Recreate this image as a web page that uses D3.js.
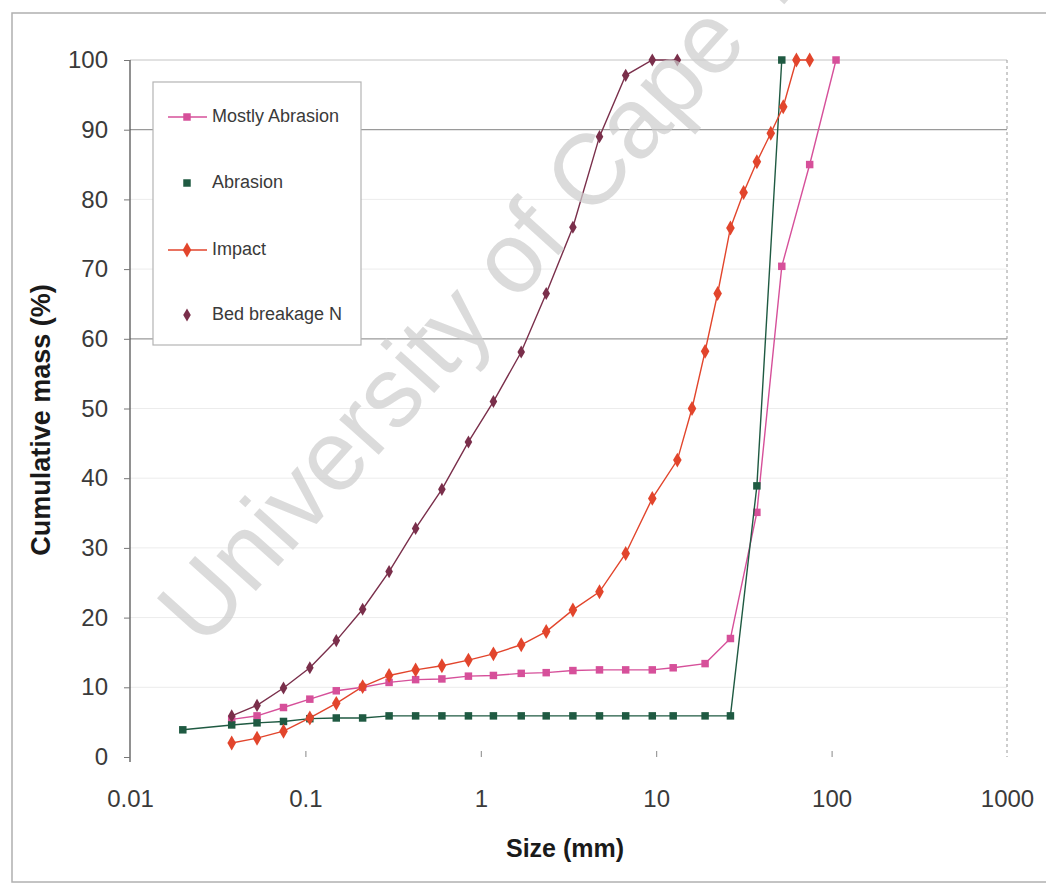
<!DOCTYPE html>
<html>
<head>
<meta charset="utf-8">
<script src="https://cdn.jsdelivr.net/npm/d3@7/dist/d3.min.js"></script>
<style>
  html, body { margin: 0; padding: 0; background: #fff; }
  svg { display: block; font-family: "Liberation Sans", Arial, sans-serif; }
</style>
</head>
<body>
<svg id="chart" width="1046" height="883"></svg>
<script>
// ---------- data ----------
const seriesNames = ["Mostly Abrasion", "Abrasion", "Impact", "Bed breakage N"];

const mostlySizes  = [0.038,0.053,0.075,0.106,0.15,0.212,0.3,0.425,0.6,0.85,1.18,1.7,2.36,3.35,4.75,6.7,9.5,12.5,19,26.5,37.5,52,75,106];
const mostlyValues = [5.4,5.9,7.1,8.3,9.5,10.0,10.7,11.1,11.2,11.6,11.7,12.0,12.1,12.4,12.5,12.5,12.5,12.8,13.4,17.0,35.1,70.4,85.0,100];

const abrasionSizes  = [0.02,0.038,0.053,0.075,0.106,0.15,0.212,0.3,0.425,0.6,0.85,1.18,1.7,2.36,3.35,4.75,6.7,9.5,12.5,19,26.5,37.5,52];
const abrasionValues = [3.9,4.6,4.9,5.1,5.5,5.6,5.6,5.9,5.9,5.9,5.9,5.9,5.9,5.9,5.9,5.9,5.9,5.9,5.9,5.9,5.9,38.9,100];

const impactSizes  = [0.038,0.053,0.075,0.106,0.15,0.212,0.3,0.425,0.6,0.85,1.18,1.7,2.36,3.35,4.75,6.7,9.5,13.2,16,19,22.4,26.5,31.5,37.5,45,53,63,75];
const impactValues = [2.0,2.7,3.7,5.6,7.7,10.1,11.7,12.5,13.1,13.9,14.8,16.1,18.0,21.1,23.7,29.2,37.1,42.6,50.0,58.2,66.5,75.9,81.0,85.4,89.5,93.3,100,100];

const bedSizes  = [0.038,0.053,0.075,0.106,0.15,0.212,0.3,0.425,0.6,0.85,1.18,1.7,2.36,3.35,4.75,6.7,9.5,13.2];
const bedValues = [5.9,7.4,9.9,12.8,16.7,21.2,26.6,32.8,38.4,45.2,51.0,58.1,66.5,76.0,89.0,97.8,100,100];

const xTicks = [0.01, 0.1, 1, 10, 100, 1000];
const xTickLabels = ["0.01", "0.1", "1", "10", "100", "1000"];
const yTicks = [0, 10, 20, 30, 40, 50, 60, 70, 80, 90, 100];

const xTitle = "Size (mm)";
const yTitle = "Cumulative mass (%)";
const watermark = "University of Cape Town";

// ---------- styles ----------
const colors = {
  "Mostly Abrasion": "#d6509a",
  "Abrasion": "#1f5a42",
  "Impact": "#e2452c",
  "Bed breakage N": "#7a2f4b"
};
const symbols = {
  "Mostly Abrasion": d3.symbolSquare,
  "Abrasion": d3.symbolSquare,
  "Impact": d3.symbolDiamond,
  "Bed breakage N": d3.symbolDiamond
};
const symbolSize = { "Mostly Abrasion": 56, "Abrasion": 56, "Impact": 64, "Bed breakage N": 50 };

const series = [
  { name: seriesNames[0], sizes: mostlySizes, values: mostlyValues },
  { name: seriesNames[1], sizes: abrasionSizes, values: abrasionValues },
  { name: seriesNames[2], sizes: impactSizes, values: impactValues },
  { name: seriesNames[3], sizes: bedSizes, values: bedValues }
];

// ---------- layout ----------
const svg = d3.select("#chart");
const x = d3.scaleLog().domain([0.01, 1000]).range([130, 1007]);
const y = d3.scaleLinear().domain([0, 100]).range([757, 60]);

// outer frame
svg.append("rect")
  .attr("x", 12).attr("y", 13).attr("width", 1050).attr("height", 869)
  .attr("fill", "none").attr("stroke", "#b0b0b0").attr("stroke-width", 1.5);

// gridlines
svg.append("g").selectAll("line").data(yTicks.filter(d => d > 0)).join("line")
  .attr("x1", x(0.01)).attr("x2", x(1000))
  .attr("y1", d => y(d)).attr("y2", d => y(d))
  .attr("stroke", d => (d === 90 || d === 60) ? "#9a9a9a" : (d === 100 ? "#c4c4c4" : "#ececec"))
  .attr("stroke-width", d => (d === 90 || d === 60) ? 1.3 : 1);

// right dashed border at 1000
svg.append("line")
  .attr("x1", x(1000)).attr("x2", x(1000))
  .attr("y1", y(100)).attr("y2", y(0))
  .attr("stroke", "#9a9a9a").attr("stroke-dasharray", "3,3");

// y axis
const yAxis = svg.append("g").attr("transform", `translate(${x(0.01)},0)`)
  .call(d3.axisLeft(y).tickValues(yTicks).tickSizeInner(6).tickSizeOuter(0).tickPadding(16));
yAxis.select(".domain").attr("stroke", "#555").attr("stroke-width", 1.3)
  .attr("d", `M0,${y(100)}V${y(0) + 5}`);
yAxis.selectAll(".tick line").attr("stroke", "#777");
yAxis.selectAll(".tick text").attr("font-size", 24).attr("fill", "#3a3a3a")
  .attr("font-family", "'Liberation Sans', Arial, sans-serif");

// x axis (ticks pointing up, no domain line)
const xAxis = svg.append("g").attr("transform", `translate(0,${y(0)})`)
  .call(d3.axisBottom(x).tickValues(xTicks).tickFormat((d, i) => xTickLabels[i])
    .tickSizeInner(-6).tickSizeOuter(0).tickPadding(33));
xAxis.select(".domain").remove();
xAxis.selectAll(".tick line").attr("stroke", "#888")
  .attr("opacity", (d, i) => (i === 0 || i === xTicks.length - 1) ? 0 : 1);
xAxis.selectAll(".tick text").attr("font-size", 24).attr("fill", "#3a3a3a")
  .attr("font-family", "'Liberation Sans', Arial, sans-serif");

// axis titles
svg.append("text").attr("x", 565).attr("y", 850).attr("text-anchor", "middle")
  .attr("dominant-baseline", "middle").attr("font-size", 25).attr("font-weight", "bold")
  .attr("fill", "#1a1a1a").text(xTitle);
svg.append("text").attr("transform", "translate(43,420) rotate(-90)")
  .attr("text-anchor", "middle").attr("dominant-baseline", "middle")
  .attr("font-size", 27).attr("font-weight", "bold").attr("fill", "#1a1a1a").text(yTitle);

// series lines and markers
const line = d3.line().x(d => x(d[0])).y(d => y(d[1]));
series.forEach(s => {
  const pts = s.sizes.map((v, i) => [v, s.values[i]]);
  const g = svg.append("g");
  g.append("path").datum(pts).attr("d", line)
    .attr("fill", "none").attr("stroke", colors[s.name]).attr("stroke-width", 1.4);
  g.selectAll("path.m").data(pts).join("path").attr("class", "m")
    .attr("transform", d => `translate(${x(d[0])},${y(d[1])})`)
    .attr("d", d3.symbol().type(symbols[s.name]).size(symbolSize[s.name]))
    .attr("fill", colors[s.name]);
});

// legend
const legend = svg.append("g");
legend.append("rect").attr("x", 153).attr("y", 82).attr("width", 208).attr("height", 263)
  .attr("fill", "#fff").attr("stroke", "#b4b4b4").attr("stroke-width", 1.2);
const legendY = [117, 183, 250, 315];
const legendLine = { "Mostly Abrasion": true, "Abrasion": false, "Impact": true, "Bed breakage N": false };
seriesNames.forEach((name, i) => {
  const gy = legendY[i];
  if (legendLine[name]) {
    legend.append("line").attr("x1", 168).attr("x2", 207).attr("y1", gy).attr("y2", gy)
      .attr("stroke", colors[name]).attr("stroke-width", 1.4);
  }
  legend.append("path").attr("transform", `translate(187,${gy})`)
    .attr("d", d3.symbol().type(symbols[name]).size(symbolSize[name]))
    .attr("fill", colors[name]);
  legend.append("text").attr("x", 212).attr("y", gy).attr("dominant-baseline", "middle")
    .attr("font-size", 18).attr("fill", "#3a3a3a").text(name);
});

// watermark
svg.append("text").attr("transform", "translate(203,650) rotate(-48)")
  .attr("font-size", 100).attr("fill", "#cdcdcd").attr("opacity", 0.7)
  .attr("font-family", "'Liberation Sans', Arial, sans-serif")
  .text(watermark);
</script>
</body>
</html>
